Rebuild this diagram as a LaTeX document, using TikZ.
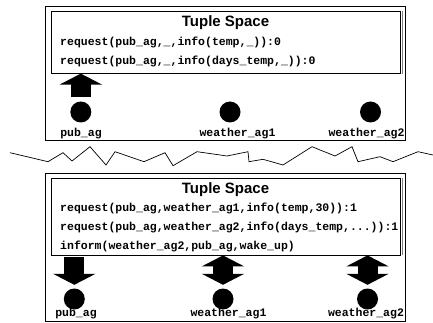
\documentclass[tikz,border=0pt]{standalone}
\usepackage{fontspec}
\setmainfont{Liberation Sans}
\setmonofont{Liberation Mono}
\usetikzlibrary{positioning, arrows.meta}
\tikzset{
	panel/.style={
		draw,
		line width=0.8pt,
		inner sep=0pt,
		minimum width=359.5pt
	},
	tsbox/.style={
		draw,
		line width=0.8pt,
		inner sep=0pt,
		minimum width=349pt
	},
	tstitle/.style={
		font={\fontsize{15}{18}\selectfont\bfseries},
		inner sep=0pt,
		anchor=base
	},
	tuple/.style={
		font={\fontsize{11.5}{13}\selectfont\ttfamily\bfseries},
		inner sep=0pt,
		anchor=base west
	},
	agent/.style={
		circle,
		fill,
		inner sep=0pt,
		minimum size=21pt
	},
	agentname/.style={
		font={\fontsize{11.5}{13}\selectfont\ttfamily\bfseries},
		inner sep=0pt,
		anchor=base
	},
	putarrow/.style={
		line width=20pt,
		-{Triangle[width=42pt, length=11pt]}
	},
	bothways/.style={
		line width=20pt,
		{Triangle[width=42pt, length=11pt]}-{Triangle[width=42pt, length=11pt]}
	}
}

\begin{document}
\begin{tikzpicture}[x=1pt, y=-1pt]
		\useasboundingbox (0,0) rectangle (433,323);
		
		% before: pub_ag puts its requests
		\node(frame1)[panel, minimum height=134pt] at (225.25,73) {};
		\node(ts1)[tsbox, minimum height=62pt] at (225.5,42.2) {};
		\draw[gray, line width=0.6pt] ([xshift=1.4pt]ts1.north east) -- ([xshift=1.4pt]ts1.south east);
		\node(title1)[tstitle] at (225.5,26.7) {Tuple Space};
		\node(req11)[tuple] at (60,45.5) {request(pub\_ag,\_,info(temp,\_)):0};
		\node(req12)[tuple, below=19pt of req11.base west, anchor=base west] {request(pub\_ag,\_,info(days\_temp,\_)):0};
		
		\node(pub1)[agent] at (80.8,112) {};
		\node(wa11)[agent] at (230,112) {};
		\node(wa21)[agent] at (370.5,112) {};
		\node(pub1lbl)[agentname] at (81,136.5) {pub\_ag};
		\node(wa11lbl)[agentname] at (237.5,136.5) {weather\_ag1};
		\node(wa21lbl)[agentname] at (366.5,136.5) {weather\_ag2};
		
		\draw[putarrow, shorten <=3.8pt] (pub1.north) -- (pub1.north |- ts1.south);
		
		% break in time
		\draw[line width=0.7pt] (10,152.7) -- (48,161.7) -- (63,152.7) -- (72,161) -- (90,146.7)
			-- (106,165) -- (115,151.7) -- (144,161.7) -- (165,152.7) -- (173,165.7)
			-- (197,151.7) -- (227,156) -- (248,151.7) -- (249,161.7) -- (263,159.3)
			-- (283,165) -- (312,146.7) -- (335,156) -- (352,146.7) -- (358,161.7)
			-- (380,156.7) -- (393,161.7) -- (418,151.7) -- (433,155);
		
		% after: the weather agents answer
		\node(frame2)[panel, minimum height=148.4pt] at (225.25,247.5) {};
		\node(ts2)[tsbox, minimum height=76.5pt] at (225.5,216.75) {};
		\draw[gray, line width=0.6pt] ([xshift=1.4pt]ts2.north east) -- ([xshift=1.4pt]ts2.south east);
		\node(title2)[tstitle] at (225.5,193.3) {Tuple Space};
		\node(req21)[tuple] at (60,211) {request(pub\_ag,weather\_ag1,info(temp,30)):1};
		\node(req22)[tuple, below=19pt of req21.base west, anchor=base west] {request(pub\_ag,weather\_ag2,info(days\_temp,...)):1};
		\node(inf23)[tuple, below=19pt of req22.base west, anchor=base west] {inform(weather\_ag2,pub\_ag,wake\_up)};
		
		\node(pub2)[agent] at (74.3,299) {};
		\node(wa12)[agent] at (223,299) {};
		\node(wa22)[agent] at (367.5,299) {};
		\node(pub2lbl)[agentname] at (76,316.5) {pub\_ag};
		\node(wa12lbl)[agentname] at (228.5,316.5) {weather\_ag1};
		\node(wa22lbl)[agentname] at (366,316.5) {weather\_ag2};
		
		\draw[putarrow, shorten <=1.7pt, shorten >=3.5pt] (pub2.north |- ts2.south) -- (pub2.north);
		\draw[bothways, shorten >=3.5pt] (wa12.north |- ts2.south) -- (wa12.north);
		\draw[bothways, shorten >=3.5pt] (wa22.north |- ts2.south) -- (wa22.north);
\end{tikzpicture}
\end{document}
